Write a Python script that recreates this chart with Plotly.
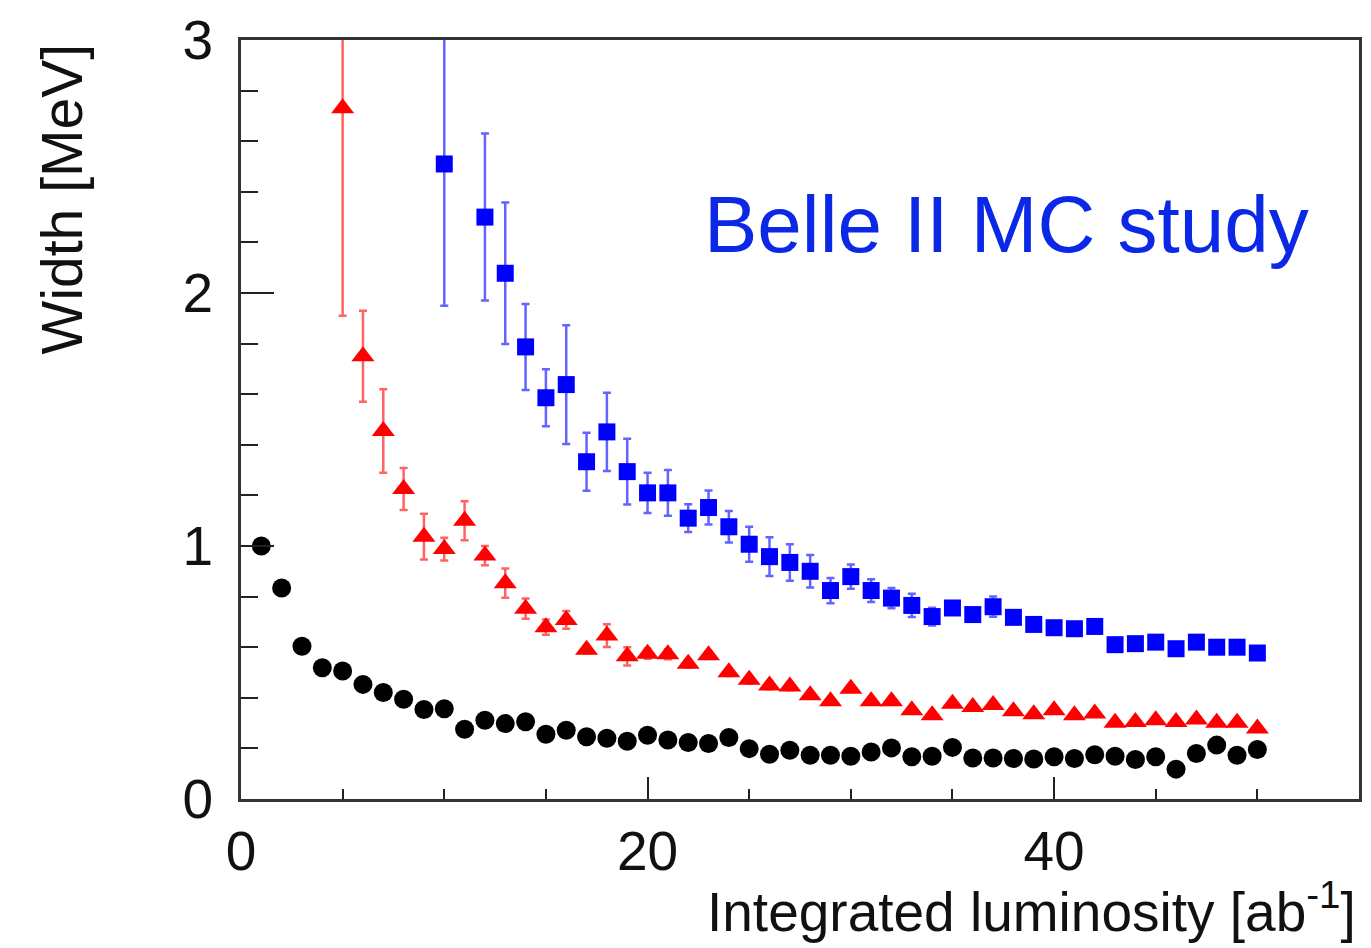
import plotly.graph_objects as go

# ---- data ----
x_black = list(range(1, 51))
w_black = [1.00, 0.834, 0.604, 0.519, 0.506, 0.453, 0.421, 0.394, 0.354, 0.357,
           0.276, 0.311, 0.298, 0.305, 0.256, 0.272, 0.246, 0.240, 0.228, 0.252,
           0.233, 0.223, 0.219, 0.243, 0.199, 0.177, 0.193, 0.173, 0.173, 0.169,
           0.186, 0.202, 0.167, 0.169, 0.204, 0.162, 0.162, 0.160, 0.158, 0.167,
           0.160, 0.175, 0.169, 0.156, 0.167, 0.118, 0.180, 0.213, 0.173, 0.196]

x_red = list(range(5, 51))
w_red = [2.73, 1.75, 1.455, 1.225, 1.037, 0.988, 1.10, 0.962, 0.853, 0.752,
         0.679, 0.708, 0.590, 0.646, 0.564, 0.574, 0.572, 0.535, 0.568, 0.501,
         0.471, 0.449, 0.445, 0.410, 0.386, 0.436, 0.386, 0.386, 0.351, 0.331,
         0.376, 0.364, 0.372, 0.347, 0.335, 0.351, 0.331, 0.338, 0.301, 0.304,
         0.311, 0.304, 0.314, 0.301, 0.301, 0.279]
e_red = [0.82, 0.18, 0.165, 0.083, 0.09, 0.045, 0.077, 0.038, 0.058, 0.04,
         0.03, 0.035, 0.015, 0.045, 0.036, 0.02, 0.02, 0.015, 0.015, 0.015,
         0.015, 0.015, 0.015, 0.012, 0.012, 0.012, 0.012, 0.012, 0.012, 0.012,
         0.01, 0.01, 0.01, 0.01, 0.01, 0.01, 0.01, 0.01, 0.01, 0.01,
         0.01, 0.01, 0.01, 0.01, 0.01, 0.01]

x_blue = [10] + list(range(12, 51))
w_blue = [2.51, 2.30, 2.078, 1.787, 1.586, 1.638, 1.333, 1.451, 1.294, 1.21,
          1.21, 1.11, 1.152, 1.076, 1.007, 0.958, 0.935, 0.90, 0.824, 0.879,
          0.824, 0.794, 0.765, 0.721, 0.755, 0.729, 0.760, 0.718, 0.690, 0.677,
          0.673, 0.682, 0.610, 0.614, 0.620, 0.594, 0.620, 0.600, 0.600, 0.577]
e_blue = [0.56, 0.33, 0.28, 0.17, 0.113, 0.235, 0.115, 0.155, 0.13, 0.08,
          0.09, 0.055, 0.067, 0.062, 0.069, 0.077, 0.072, 0.064, 0.05, 0.048,
          0.045, 0.04, 0.046, 0.035, 0.02, 0.015, 0.04, 0.025, 0.015, 0.015,
          0.02, 0.015, 0.01, 0.01, 0.01, 0.01, 0.01, 0.01, 0.01, 0.01]

FONT = "Liberation Sans, Arial, Helvetica, sans-serif"

fig = go.Figure()

fig.add_trace(go.Scatter(
    x=x_blue, y=w_blue, mode="markers",
    marker=dict(symbol="square", size=17, color="#0000ff"),
    error_y=dict(type="data", array=e_blue, visible=True,
                 color="rgba(60,60,255,0.8)", thickness=2.5, width=4),
    showlegend=False))

fig.add_trace(go.Scatter(
    x=x_red, y=w_red, mode="markers",
    marker=dict(symbol="triangle-up", size=20, color="#ff0000"),
    error_y=dict(type="data", array=e_red, visible=True,
                 color="rgba(255,60,60,0.8)", thickness=2.5, width=4),
    showlegend=False))

fig.add_trace(go.Scatter(
    x=x_black, y=w_black, mode="markers",
    marker=dict(symbol="circle", size=19, color="#000000"),
    showlegend=False))

fig.add_annotation(x=22.7, y=2.27, xref="x", yref="y",
                   text="Belle II MC study", showarrow=False,
                   xanchor="left", yanchor="middle",
                   font=dict(family=FONT, size=80, color="#0a28e6"))

fig.add_annotation(x=0.999, y=-0.193, xref="paper", yref="paper",
                   text="Integrated luminosity [ab<sup>-1</sup>]", showarrow=False,
                   xanchor="right", yanchor="bottom",
                   font=dict(family=FONT, size=55, color="#111111"))

fig.add_annotation(x=-0.16, y=0.997, xref="paper", yref="paper",
                   text="Width [MeV]", showarrow=False, textangle=-90,
                   xanchor="center", yanchor="top",
                   font=dict(family=FONT, size=57, color="#111111"))

fig.update_xaxes(range=[0, 55], dtick=20, tick0=0,
                 ticks="inside", ticklen=22, tickwidth=2, tickcolor="#222",
                 minor=dict(dtick=5, ticks="inside", ticklen=10, tickwidth=2, tickcolor="#222"),
                 showline=True, linewidth=3, linecolor="#333", mirror=True,
                 showgrid=False, zeroline=False,
                 tickfont=dict(family=FONT, size=55, color="#111"),
                 ticklabelstandoff=2)
fig.update_yaxes(range=[0, 3], dtick=1, tick0=0,
                 ticks="inside", ticklen=33, tickwidth=2, tickcolor="#222",
                 minor=dict(dtick=0.2, ticks="inside", ticklen=17, tickwidth=2, tickcolor="#222"),
                 showline=True, linewidth=3, linecolor="#333", mirror=True,
                 showgrid=False, zeroline=False,
                 tickfont=dict(family=FONT, size=55, color="#111"),
                 ticklabelstandoff=14)

fig.update_layout(width=1371, height=948,
                  margin=dict(l=241, r=9, t=38, b=149),
                  paper_bgcolor="white", plot_bgcolor="white")

fig.write_html("out.html")
